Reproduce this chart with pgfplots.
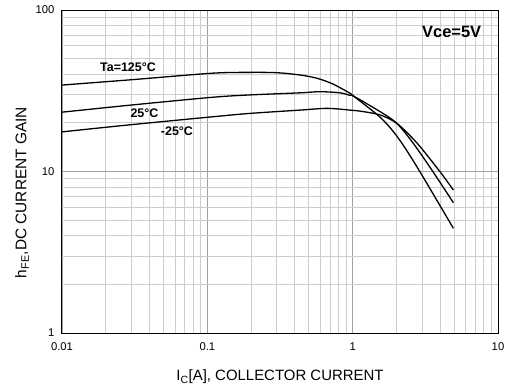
\documentclass[border=0pt]{standalone}
\usepackage{pgfplots}
\pgfplotsset{compat=1.18}
\usepackage{fontspec}
\setmainfont{Liberation Sans}
\definecolor{minorgrid}{RGB}{205,205,205}
\definecolor{majorgrid}{RGB}{160,160,160}
\begin{document}
\begin{tikzpicture}[x=1bp,y=1bp]
\begin{axis}[
  at={(0,0)}, anchor=south west,
  scale only axis, width=436bp, height=323bp,
  xmode=log, ymode=log,
  xmin=0.01, xmax=10, ymin=1, ymax=100,
  xtick={0.01,0.1,1,10}, xticklabels={0.01,0.1,1,10},
  ytick={1,10,100}, yticklabels={1,10,100},
  grid=both,
  major grid style={majorgrid, line width=0.9bp},
  minor grid style={minorgrid, line width=0.9bp},
  major tick length=0pt, minor tick length=0pt,
  axis line style={black, line width=1bp},
  xticklabel style={font=\fontsize{11.3}{13}\selectfont, anchor=center, yshift=-14bp},
  yticklabel style={font=\fontsize{11.3}{13}\selectfont, anchor=east, xshift=-4bp},
  xlabel={I\textsubscript{C}[A], COLLECTOR CURRENT},
  ylabel={h\textsubscript{FE},DC CURRENT GAIN},
  xlabel style={font=\fontsize{15}{17}\selectfont, at={(rel axis cs:0.5,0)}, anchor=center, yshift=-44bp},
  ylabel style={font=\fontsize{15.5}{17}\selectfont, at={(rel axis cs:0,0.435)}, anchor=center, yshift=40bp},
  clip=true,
]
% Ta = 125 C
\addplot[black, line width=1.3bp, smooth] coordinates {
 (0.01,34.3) (0.03,37.0) (0.1076,40.6) (0.1966,41.1) (0.3015,40.9) (0.434,39.6)
 (0.568,37.8) (0.732,34.8) (0.959,30.5) (1.02,29.2) (1.542,21.7) (2.01,16.6)
 (2.75,10.8) (4.93,4.45)};
% 25 C
\addplot[black, line width=1.3bp, smooth] coordinates {
 (0.01,23.3) (0.03,25.8) (0.1076,28.8) (0.1966,29.8) (0.434,30.7) (0.596,31.2)
 (0.818,30.7) (0.959,29.6) (1.02,29.2) (1.542,23.5) (2.01,19.9) (2.605,15.0)
 (3.57,9.97) (4.93,6.41)};
% -25 C
\addplot[black, line width=1.3bp, smooth] coordinates {
 (0.01,17.6) (0.03,19.5) (0.1076,21.8) (0.1966,22.9) (0.434,24.0) (0.666,24.6)
 (0.959,24.0) (1.178,23.5) (1.542,22.4) (2.01,19.9) (2.772,15.0) (3.99,9.97)
 (4.93,7.68)};
\node[font=\bfseries\fontsize{12.5}{14}\selectfont] at (axis cs:0.02845,44.4) {Ta=125°C};
\node[font=\bfseries\fontsize{12.5}{14}\selectfont] at (axis cs:0.03695,23.0) {25°C};
\node[font=\bfseries\fontsize{12.5}{14}\selectfont] at (axis cs:0.0618,17.7) {-25°C};
\node[font=\bfseries\fontsize{16.5}{18}\selectfont] at (axis cs:4.80,73.6) {Vce=5V};
\end{axis}
\pgfresetboundingbox
\useasboundingbox (-62,-57) rectangle (444,333);
\end{tikzpicture}
\end{document}
